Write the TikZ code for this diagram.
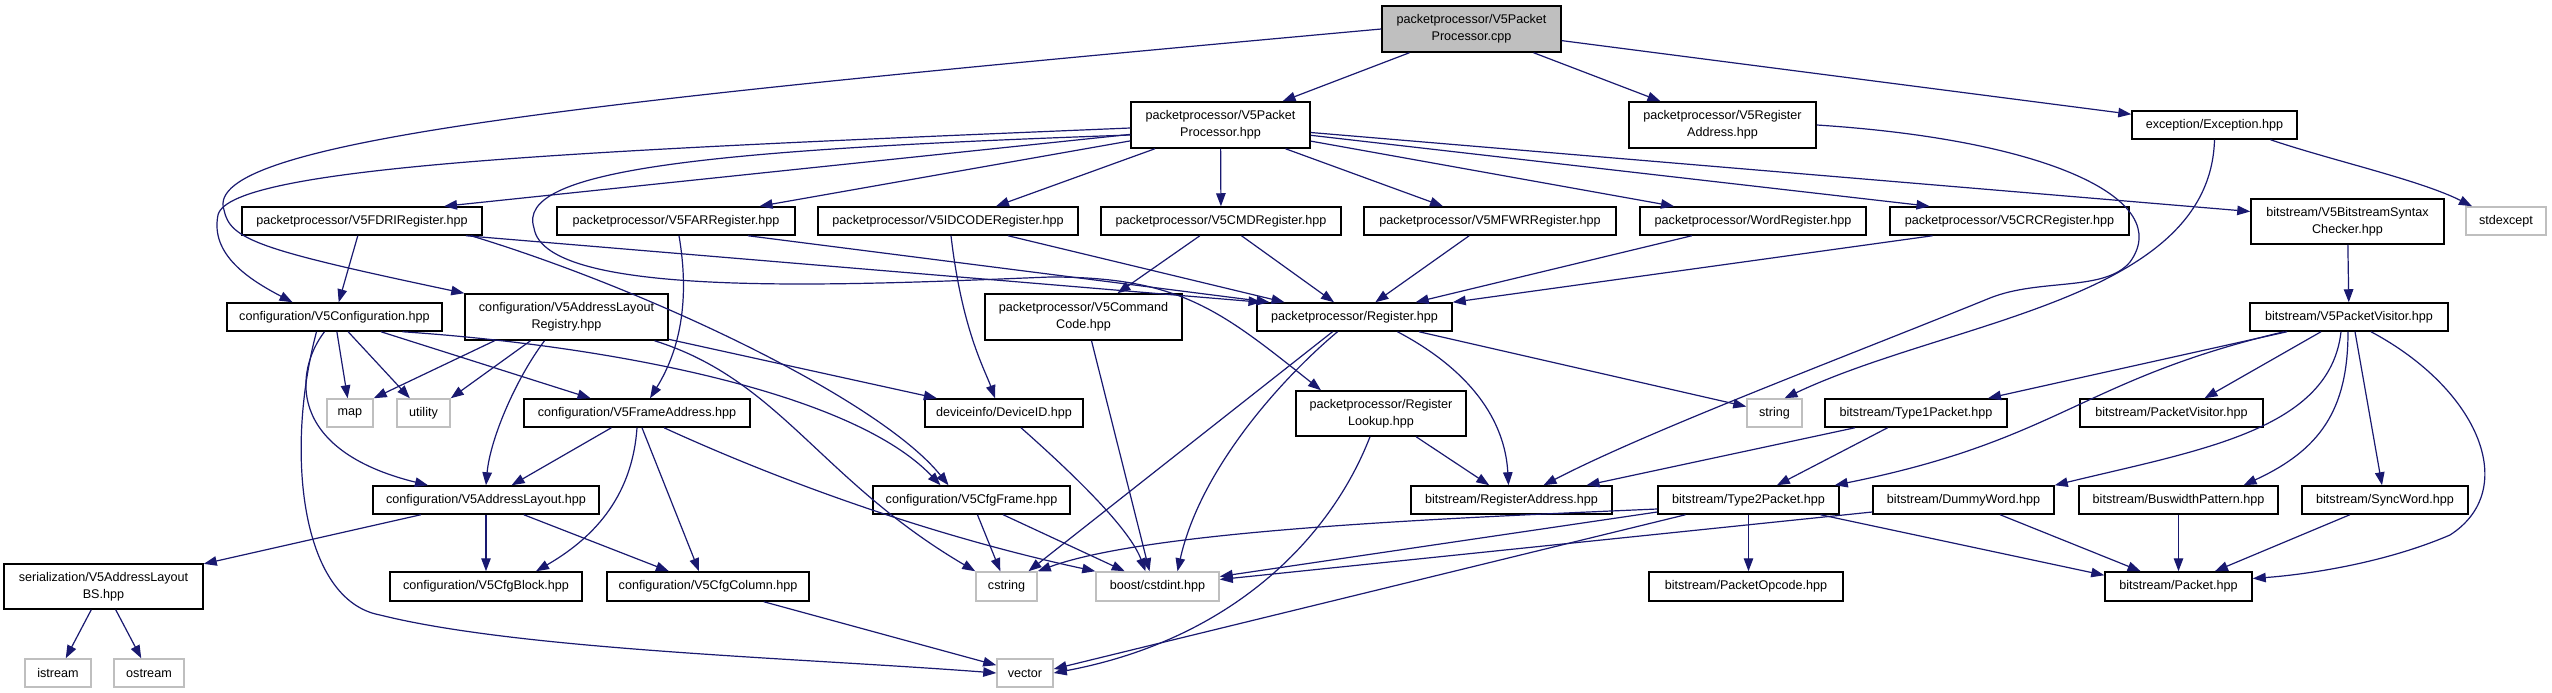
\documentclass[tikz,border=0pt]{standalone}
\usepackage{fontspec}
\setmainfont{Liberation Sans}
\usetikzlibrary{arrows.meta}
\definecolor{edgecol}{RGB}{25,25,112}
\definecolor{syscol}{RGB}{191,191,191}
\definecolor{rootfill}{RGB}{191,191,191}
\newcommand{\boxfont}{\fontsize{12.6}{17}\selectfont}
\begin{document}
\begin{tikzpicture}[x=1pt,y=-1pt,
  box/.style={draw=black, line width=1.5pt, rectangle, inner sep=0pt, align=center, font=\boxfont, fill=white},
  sysbox/.style={box, draw=syscol},
  rootbox/.style={box, fill=rootfill},
  dep/.style={draw=edgecol, line width=1.2pt, -{Triangle[length=13pt,width=9.5pt]}}]
\useasboundingbox[fill=white] (0,0) rectangle (2552,693);
% row 1
\node[rootbox, minimum width=179, minimum height=46] (root) at (1471.5,29) {packetprocessor/V5Packet\\Processor.cpp};
% row 2
\node[box, minimum width=179, minimum height=46] (PP) at (1220.5,125) {packetprocessor/V5Packet\\Processor.hpp};
\node[box, minimum width=187, minimum height=46] (RA5) at (1722.5,125) {packetprocessor/V5Register\\Address.hpp};
\node[box, minimum width=165, minimum height=28] (EXC) at (2214.5,125) {exception/Exception.hpp};
% row 3
\node[box, minimum width=240, minimum height=28] (FDRI) at (362,221) {packetprocessor/V5FDRIRegister.hpp};
\node[box, minimum width=238, minimum height=28] (FAR) at (676,221) {packetprocessor/V5FARRegister.hpp};
\node[box, minimum width=260, minimum height=28] (IDC) at (948,221) {packetprocessor/V5IDCODERegister.hpp};
\node[box, minimum width=240, minimum height=28] (CMD) at (1221,221) {packetprocessor/V5CMDRegister.hpp};
\node[box, minimum width=252, minimum height=28] (MFWR) at (1490,221) {packetprocessor/V5MFWRRegister.hpp};
\node[box, minimum width=226, minimum height=28] (WORD) at (1753,221) {packetprocessor/WordRegister.hpp};
\node[box, minimum width=239, minimum height=28] (CRC) at (2009.5,221) {packetprocessor/V5CRCRegister.hpp};
\node[box, minimum width=193, minimum height=45] (SYN) at (2347.5,221.5) {bitstream/V5BitstreamSyntax\\Checker.hpp};
\node[sysbox, minimum width=80, minimum height=28] (STDX) at (2506,221) {stdexcept};
% row 4
\node[box, minimum width=215, minimum height=28] (CONF) at (334.5,317) {configuration/V5Configuration.hpp};
\node[box, minimum width=203, minimum height=46] (ALR) at (566.5,317) {configuration/V5AddressLayout\\Registry.hpp};
\node[box, minimum width=197, minimum height=46] (CC) at (1083.5,317) {packetprocessor/V5Command\\Code.hpp};
\node[box, minimum width=195, minimum height=28] (REG) at (1354.5,317) {packetprocessor/Register.hpp};
\node[box, minimum width=198, minimum height=28] (PV5) at (2349,317) {bitstream/V5PacketVisitor.hpp};
% row 5
\node[sysbox, minimum width=46, minimum height=28] (MAP) at (350,413) {map};
\node[sysbox, minimum width=53, minimum height=28] (UTIL) at (423.5,413) {utility};
\node[box, minimum width=226, minimum height=28] (FA) at (637,413) {configuration/V5FrameAddress.hpp};
\node[box, minimum width=158, minimum height=28] (DEV) at (1004,413) {deviceinfo/DeviceID.hpp};
\node[box, minimum width=170, minimum height=45] (RL) at (1381,413.5) {packetprocessor/Register\\Lookup.hpp};
\node[sysbox, minimum width=55, minimum height=28] (STR) at (1774.5,413) {string};
\node[box, minimum width=182, minimum height=28] (T1) at (1916,413) {bitstream/Type1Packet.hpp};
\node[box, minimum width=183, minimum height=28] (PVIS) at (2171.5,413) {bitstream/PacketVisitor.hpp};
% row 6
\node[box, minimum width=226, minimum height=28] (AL) at (486,500) {configuration/V5AddressLayout.hpp};
\node[box, minimum width=197, minimum height=28] (CF) at (971.5,500) {configuration/V5CfgFrame.hpp};
\node[box, minimum width=201, minimum height=28] (RADDR) at (1511.5,500) {bitstream/RegisterAddress.hpp};
\node[box, minimum width=181, minimum height=28] (T2) at (1748.5,500) {bitstream/Type2Packet.hpp};
\node[box, minimum width=181, minimum height=28] (DW) at (1963.5,500) {bitstream/DummyWord.hpp};
\node[box, minimum width=199, minimum height=28] (BW) at (2178.5,500) {bitstream/BuswidthPattern.hpp};
\node[box, minimum width=166, minimum height=28] (SW) at (2385,500) {bitstream/SyncWord.hpp};
% row 7
\node[box, minimum width=199, minimum height=45] (ALBS) at (103.5,586.5) {serialization/V5AddressLayout\\BS.hpp};
\node[box, minimum width=192, minimum height=29] (CB) at (486,586.5) {configuration/V5CfgBlock.hpp};
\node[box, minimum width=202, minimum height=29] (CCOL) at (708,586.5) {configuration/V5CfgColumn.hpp};
\node[sysbox, minimum width=61, minimum height=29] (CSTR) at (1006.5,586.5) {cstring};
\node[sysbox, minimum width=123, minimum height=29] (CINT) at (1157.5,586.5) {boost/cstdint.hpp};
\node[box, minimum width=194, minimum height=29] (POP) at (1746,586.5) {bitstream/PacketOpcode.hpp};
\node[box, minimum width=147, minimum height=29] (PKT) at (2178.5,586.5) {bitstream/Packet.hpp};
% row 8
\node[sysbox, minimum width=66, minimum height=28] (IS) at (58,673) {istream};
\node[sysbox, minimum width=70, minimum height=28] (OS) at (149,673) {ostream};
\node[sysbox, minimum width=56, minimum height=28] (VEC) at (1025,673) {vector};

% edges from root
\draw[dep] (root) -- (PP);
\draw[dep] (root) -- (RA5);
\draw[dep] (root) -- (EXC);
\draw[dep] (root.west) .. controls (600,100) and (200,140) .. (224,210) .. controls (230,240) and (260,250) .. (ALR.north west);
% edges from PP
\draw[dep] (PP) -- ([xshift=82pt]FDRI.north);
\draw[dep] (PP) -- (FAR);
\draw[dep] (PP) -- ([xshift=48pt]IDC.north);
\draw[dep] (PP) -- (CMD);
\draw[dep] (PP) -- ([xshift=-47pt]MFWR.north);
\draw[dep] (PP) -- ([xshift=-79pt]WORD.north);
\draw[dep] (PP) -- ([xshift=-80pt]CRC.north);
\draw[dep] (PP) -- ([yshift=10pt]SYN.west);
\draw[dep] ([yshift=-3pt]PP.west) .. controls (600,150) and (230,165) .. (218,215) .. controls (210,255) and (250,280) .. ([xshift=-42pt]CONF.north);
\draw[dep] ([yshift=-10pt]PP.west) .. controls (700,150) and (515,170) .. (534,228) .. controls (545,300) and (850,285) .. (1050,277) .. controls (1180,277) and (1220,310) .. ([xshift=-60pt]RL.north);
% rank 2 registers
\draw[dep] (FDRI) -- (CONF);
\draw[dep] ([xshift=104pt]FDRI.south) -- ([xshift=-93pt]REG.north);
\draw[dep] ([xshift=109pt]FDRI.south) .. controls (650,290) and (880,400) .. ([xshift=-23pt]CF.north);
\draw[dep] ([xshift=3pt]FAR.south) .. controls (690,300) and (680,350) .. ([xshift=13pt]FA.north);
\draw[dep] ([xshift=72pt]FAR.south) -- ([xshift=-85pt]REG.north);
\draw[dep] ([xshift=60pt]IDC.south) -- ([xshift=-70pt]REG.north);
\draw[dep] ([xshift=3pt]IDC.south) .. controls (962,330) and (985,370) .. ([xshift=-9pt]DEV.north);
\draw[dep] (CMD) -- (CC);
\draw[dep] (CMD) -- (REG);
\draw[dep] (MFWR) -- (REG);
\draw[dep] (WORD) -- (REG);
\draw[dep] ([xshift=-77pt]CRC.south) -- (REG.north east);
% configuration
\draw[dep] (CONF) -- (MAP);
\draw[dep] (CONF) -- (UTIL);
\draw[dep] (CONF) -- (FA);
\draw[dep] ([xshift=68pt]CONF.south) .. controls (600,345) and (850,390) .. ([xshift=-31pt]CF.north);
\draw[dep] ([xshift=-10pt]CONF.south) .. controls (295,370) and (285,450) .. ([xshift=-58pt]AL.north);
\draw[dep] ([xshift=-18pt]CONF.south) .. controls (285,450) and (300,600) .. (380,615) .. controls (520,650) and (800,658) .. (VEC.west);
\draw[dep] ([xshift=-72pt]ALR.south) -- (MAP.north east);
\draw[dep] ([xshift=-36pt]ALR.south) -- (UTIL.north east);
\draw[dep] ([xshift=-22pt]ALR.south) .. controls (515,380) and (490,440) .. (AL.north);
\draw[dep] (ALR) -- (DEV);
\draw[dep] ([xshift=88pt]ALR.south) .. controls (780,380) and (820,480) .. (CSTR.north west);
\draw[dep] (FA) -- (AL);
\draw[dep] (FA.south) .. controls (632,500) and (590,540) .. ([xshift=50pt]CB.north);
\draw[dep] ([xshift=5pt]FA.south) -- ([xshift=-9pt]CCOL.north);
\draw[dep] ([xshift=27pt]FA.south) .. controls (800,490) and (950,540) .. (CINT.north west);
\draw[dep] (AL) -- (ALBS);
\draw[dep] (AL) -- (CB);
\draw[dep] (AL) -- (CCOL);
\draw[dep] (ALBS) -- (IS);
\draw[dep] (ALBS) -- (OS);
\draw[dep] (CCOL) -- (VEC);
\draw[dep] (CF) -- (CSTR);
\draw[dep] (CF) -- (CINT);
\draw[dep] ([xshift=17pt]DEV.south) .. controls (1080,480) and (1130,530) .. ([xshift=-12pt]CINT.north);
\draw[dep] ([xshift=8pt]CC.south) -- ([xshift=-8pt]CINT.north);
% register
\draw[dep] ([xshift=-22pt]REG.south) -- ([xshift=22pt]CSTR.north);
\draw[dep] ([xshift=-17pt]REG.south) .. controls (1280,380) and (1200,470) .. ([xshift=20pt]CINT.north);
\draw[dep] ([xshift=43pt]REG.south) .. controls (1470,370) and (1505,420) .. ([xshift=-3pt]RADDR.north);
\draw[dep] (REG) -- (STR);
\draw[dep] (RL) -- (RADDR);
\draw[dep] ([xshift=-11pt]RL.south) .. controls (1330,540) and (1230,640) .. (VEC.east);
\draw[dep] (RA5.east) .. controls (2050,140) and (2175,200) .. (2130,262) .. controls (2105,292) and (2040,278) .. (1990,298) .. controls (1850,355) and (1650,430) .. ([xshift=32pt]RADDR.north);
% exception
\draw[dep] ([xshift=56pt]EXC.south) .. controls (2330,160) and (2420,180) .. ([xshift=-34pt]STDX.north);
\draw[dep] (EXC.south) .. controls (2210,300) and (1950,320) .. ([xshift=10pt]STR.north);
% bitstream
\draw[dep] (SYN) -- (PV5);
\draw[dep] ([xshift=-62pt]PV5.south) -- ([xshift=72pt]T1.north);
\draw[dep] ([xshift=-65pt]PV5.south) .. controls (2080,380) and (2060,440) .. ([xshift=-5pt]T2.north east);
\draw[dep] ([xshift=-28pt]PV5.south) -- ([xshift=33pt]PVIS.north);
\draw[dep] ([xshift=-8pt]PV5.south) .. controls (2330,430) and (2200,450) .. (DW.north east);
\draw[dep] ([xshift=-1pt]PV5.south) .. controls (2348,410) and (2320,450) .. ([xshift=65pt]BW.north);
\draw[dep] ([xshift=6pt]PV5.south) -- ([xshift=-3pt]SW.north);
\draw[dep] ([xshift=22pt]PV5.south) .. controls (2480,390) and (2520,490) .. (2450,535) .. controls (2380,565) and (2300,575) .. ([yshift=8pt]PKT.east);
\draw[dep] ([xshift=-61pt]T1.south) -- ([xshift=75pt]RADDR.north);
\draw[dep] (T1) -- (T2);
\draw[dep] ([yshift=-9pt]T2.west) .. controls (1450,518) and (1150,530) .. (CSTR.north east);
\draw[dep] ([yshift=-12pt]T2.west) -- ([yshift=10pt]CINT.east);
\draw[dep] (T2.south) -- (T2.south |- POP.north);
\draw[dep] ([xshift=72pt]T2.south) -- ([yshift=-4pt]PKT.north west);
\draw[dep] ([xshift=-63pt]T2.south) -- ([yshift=4pt]VEC.east);
\draw[dep] ([yshift=-12pt]DW.west) -- ([yshift=7pt]CINT.east);
\draw[dep] (DW) -- (PKT);
\draw[dep] (BW) -- (PKT);
\draw[dep] (SW) -- (PKT);
\end{tikzpicture}
\end{document}
